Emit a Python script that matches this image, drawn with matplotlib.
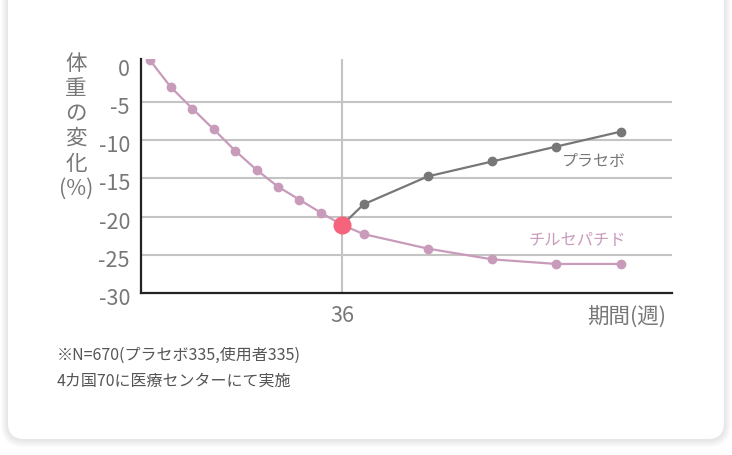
import matplotlib
matplotlib.use('Agg')
import matplotlib.pyplot as plt
from matplotlib.patches import FancyBboxPatch
from matplotlib.transforms import IdentityTransform, ScaledTranslation

plt.rcParams['font.family'] = ['Noto Sans CJK JP', 'DejaVu Sans']

# データ (週, 体重変化%)
weeks_lead = [0, 4, 8, 12, 16, 20, 24, 28, 32, 36]
tirz_lead = [0.5, -3.1, -5.9, -8.6, -11.4, -13.9, -16.1, -17.8, -19.5, -21.1]
weeks_after = [36, 40, 52, 64, 76, 88]
tirz_after = [-21.1, -22.3, -24.2, -25.6, -26.2, -26.2]
placebo_after = [-21.1, -18.4, -14.75, -12.8, -10.85, -8.9]
yticks = [0, -5, -10, -15, -20, -25, -30]
xticks = [36]
ylabel_chars = ['体', '重', 'の', '変', '化', '(%)']
notes = ['※N=670(プラセボ335,使用者335)', '4カ国70に医療センターにて実施']

pink = '#c89bba'
gray = '#777777'
red = '#f5647c'

W, H = 732, 456
fig = plt.figure(figsize=(W / 100, H / 100), dpi=100)
fig.patch.set_facecolor('white')

# カード背景 + 影（下側に柔らかく）
for i in range(8):
    g = 14 - 1.6 * i
    sh = FancyBboxPatch((8 - g / 2, H - 440 - g * 0.6), 716 + g, 480,
                        boxstyle='round,pad=0,rounding_size=%d' % (16 + g / 2),
                        transform=IdentityTransform(), facecolor='black',
                        edgecolor='none', alpha=0.012, zorder=-10)
    fig.patches.append(sh)
card = FancyBboxPatch((8, H - 440), 716, 480,
                      boxstyle='round,pad=0,rounding_size=16',
                      transform=IdentityTransform(), facecolor='white',
                      edgecolor='none', zorder=-5)
fig.patches.append(card)

ax = fig.add_axes([141 / W, 1 - 294 / H, (672 - 141) / W, (294 - 60) / H])
ax.set_facecolor('none')
ax.set_xlim(-1.6, 97.6)
ax.set_ylim(-30, 0.6)

for v in yticks[1:-1]:
    ax.axhline(v, color='#c4c4c4', lw=1.5, zorder=1)
ax.axvline(36, color='#c4c4c4', lw=1.5, zorder=1)

ax.plot(weeks_lead, tirz_lead, color=pink, lw=1.6, marker='o', ms=6, zorder=3)
ax.plot(weeks_after, tirz_after, color=pink, lw=1.6, marker='o', ms=6, zorder=3)
ax.plot(weeks_after, placebo_after, color=gray, lw=1.6, marker='o', ms=6, zorder=3)
ax.plot([weeks_lead[-1]], [tirz_lead[-1]], 'o', color=red, ms=12, zorder=4)

for s in ['top', 'right']:
    ax.spines[s].set_visible(False)
for s in ['left', 'bottom']:
    ax.spines[s].set_color('#222222')
    ax.spines[s].set_linewidth(1.6)

ax.set_yticks(yticks)
ax.set_yticklabels([str(v) for v in yticks])
ax.set_xticks(xticks)
ax.set_xticklabels([str(v) for v in xticks])
ax.tick_params(axis='y', length=0, pad=8, labelsize=15.5, labelcolor=gray)
ax.tick_params(axis='x', length=0, pad=8, labelsize=15.5, labelcolor=gray)
# 目盛ラベルを少し下げる
off = ScaledTranslation(0, -2.5 / 100, fig.dpi_scale_trans)
for lab in ax.get_yticklabels():
    lab.set_transform(lab.get_transform() + off)

ax.text(89, -12.7, 'プラセボ', color=gray, fontsize=11.5, ha='right', va='center')
ax.text(89, -23.0, 'チルセパチド', color=pink, fontsize=11.7, ha='right', va='center')

fig.text(627 / W, 1 - 318 / H, '期間(週)', color=gray, fontsize=15.5,
         ha='center', va='center')
for i, ch in enumerate(ylabel_chars):
    fig.text(76 / W, 1 - (64 + 25 * i) / H, ch, color=gray, fontsize=15.5,
             ha='center', va='center')

for i, n in enumerate(notes):
    fig.text(57 / W, 1 - (355 + 26 * i) / H, n, color='#555555', fontsize=11.5,
             ha='left', va='center')

fig.savefig('out.png', dpi=100)
